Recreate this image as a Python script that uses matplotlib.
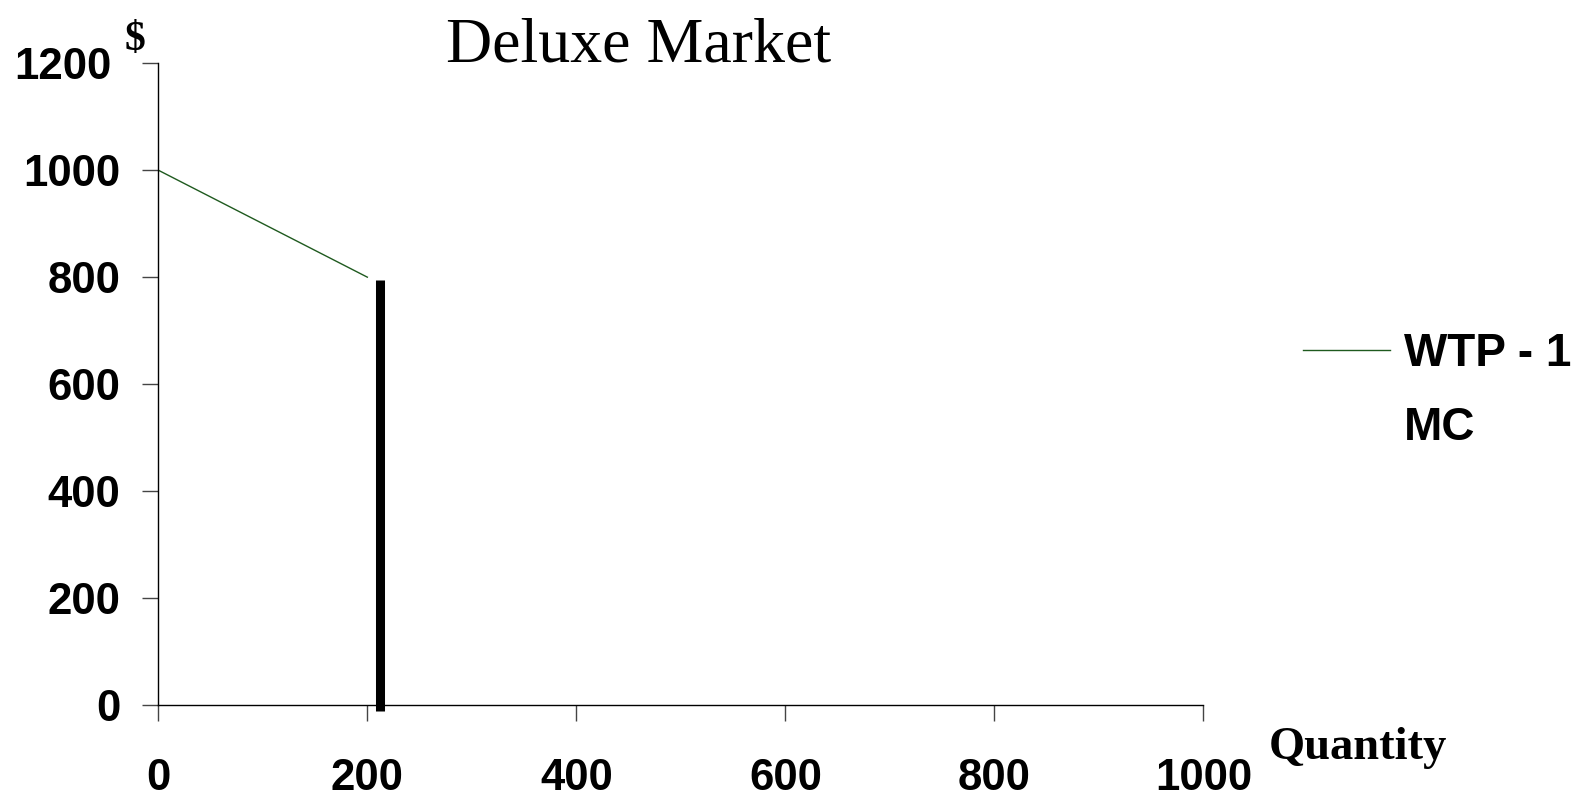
import matplotlib.pyplot as plt
from matplotlib.lines import Line2D
from matplotlib.transforms import ScaledTranslation

# --- Data ---
wtp_q = [0, 200]
wtp_p = [1000, 800]
mc_q = [212, 212]
mc_p = [-12, 795]

x_ticks = [0, 200, 400, 600, 800, 1000]
y_ticks = [0, 200, 400, 600, 800, 1000, 1200]

WTP_COLOR = '#1f5a1f'

fig = plt.figure(figsize=(15.85, 8.09), dpi=100)
ax = fig.add_axes([0.0999, 0.1286, 0.6593, 0.7932])

ax.plot(wtp_q, wtp_p, color=WTP_COLOR, lw=1.0, label='WTP - 1')
ax.plot(mc_q, mc_p, color='black', lw=6.5, solid_capstyle='butt', label='MC',
        clip_on=False)

ax.set_xlim(0, 1000)
ax.set_ylim(0, 1200)
ax.set_xticks(x_ticks)
ax.set_yticks(y_ticks)

for side in ['top', 'right']:
    ax.spines[side].set_visible(False)
for side in ['left', 'bottom']:
    ax.spines[side].set_linewidth(1.0)

tick_font = dict(family='Liberation Sans', weight='bold', size=31.5)
ax.set_xticklabels([str(v) for v in x_ticks], fontdict=tick_font)
ax.set_yticklabels([str(v) for v in y_ticks], fontdict=tick_font)
ax.tick_params(axis='x', direction='out', length=11.5, width=1.0, color='#444444', pad=27)
ax.tick_params(axis='y', direction='out', length=11.5, width=1.0, color='#444444', pad=16)

# the top label sits a little further left, out of the way of the "$"
top_lbl = ax.get_yticklabels()[-1]
top_lbl.set_transform(top_lbl.get_transform() + ScaledTranslation(-9 / 100, 0, fig.dpi_scale_trans))

# title and axis captions
fig.text(0.403, 0.943, 'Deluxe Market', family='Liberation Serif', size=46,
         ha='center', va='center')
fig.text(0.085, 0.95, '$', family='Liberation Serif', weight='bold', size=30,
         ha='center', va='center')
fig.text(0.857, 0.076, 'Quantity', family='Liberation Serif', weight='bold', size=33.5,
         ha='center', va='center')

# legend (MC has no visible key)
handles = [Line2D([], [], color=WTP_COLOR, lw=1.0),
           Line2D([], [], color='none')]
leg = fig.legend(handles, ['WTP - 1', 'MC'], loc='center left',
                 bbox_to_anchor=(0.822, 0.517), frameon=False, borderpad=0,
                 borderaxespad=0,
                 prop=dict(family='Liberation Sans', weight='bold', size=33),
                 handlelength=1.9, handletextpad=0.3, labelspacing=0.65)

plt.savefig('out.png', dpi=100)
